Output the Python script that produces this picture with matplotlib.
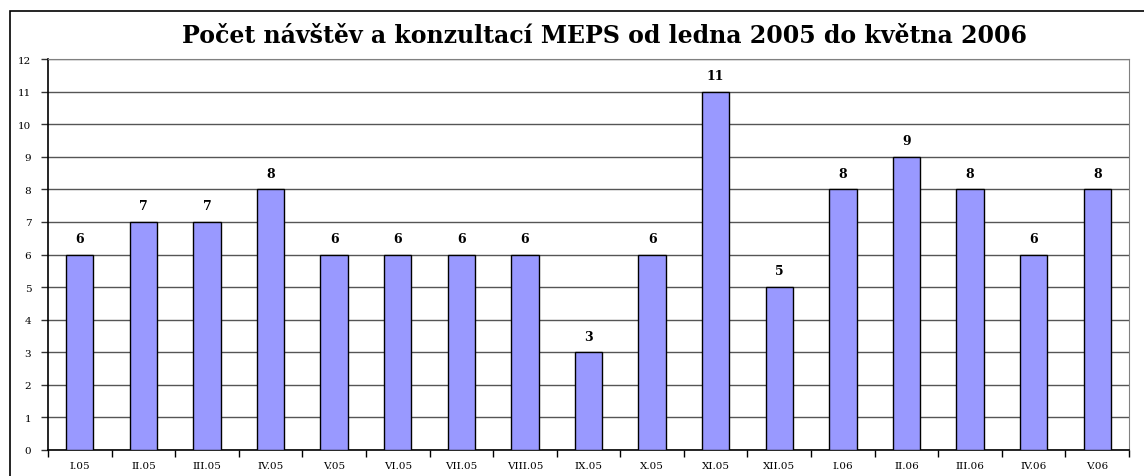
import matplotlib
matplotlib.use("Agg")
import matplotlib.pyplot as plt
from matplotlib.patches import Rectangle
import numpy as np

categories = ["I.05", "II.05", "III.05", "IV.05", "V.05", "VI.05", "VII.05", "VIII.05",
              "IX.05", "X.05", "XI.05", "XII.05", "I.06", "II.06", "III.06", "IV.06", "V.06"]
values = [6, 7, 7, 8, 6, 6, 6, 6, 3, 6, 11, 5, 8, 9, 8, 6, 8]
title = "Počet návštěv a konzultací MEPS od ledna 2005 do května 2006"

W, H = 1144, 477
fig = plt.figure(figsize=(W/100, H/100), dpi=100)
plt.rcParams['font.family'] = ['DejaVu Serif', 'Liberation Serif']

L, R, T, B = 48, 1129, 60, 451
ax = fig.add_axes([L/W, 1 - B/H, (R-L)/W, (B-T)/H])

x = np.arange(len(categories))
ax.bar(x, values, width=0.43, color="#9999FF", edgecolor="black", linewidth=1.0, zorder=3)
ax.set_xlim(-0.5, len(categories) - 0.5)
ax.set_ylim(0, 12)
ax.set_yticks(range(0, 13))
ax.set_yticklabels([str(i) for i in range(13)], fontsize=7.5)
ax.yaxis.grid(True, color="#555555", linewidth=1.0, zorder=0)
ax.set_xticks(np.arange(-0.5, len(categories), 1.0))
ax.set_xticklabels([])
ax.set_xticks(x, minor=True)
ax.set_xticklabels(categories, minor=True, fontsize=7.5)
ax.tick_params(axis='x', which='minor', length=0, pad=8)
ax.tick_params(axis='x', which='major', length=5, width=1, color='black')
ax.tick_params(axis='y', length=5, width=1, pad=7, color='#333333')
for s in ['top', 'right']:
    ax.spines[s].set_color('#808080')
for s in ['left', 'bottom']:
    ax.spines[s].set_color('black')
    ax.spines[s].set_linewidth(1.2)

for xi, v in zip(x, values):
    ax.annotate(str(v), (xi, v), xytext=(0, 7), textcoords='offset points',
                ha='center', va='bottom', fontsize=9, fontweight='bold', zorder=4)

fig.text(605/W, 1 - 36/H, title, ha='center', va='center', fontsize=17, fontweight='bold')

fig.patches.append(Rectangle((10/W, -0.1), 1.2, 1 - 12/H + 0.1, transform=fig.transFigure,
                             fill=False, edgecolor='black', linewidth=1.2, clip_on=False))

fig.savefig("out.png", dpi=100)
